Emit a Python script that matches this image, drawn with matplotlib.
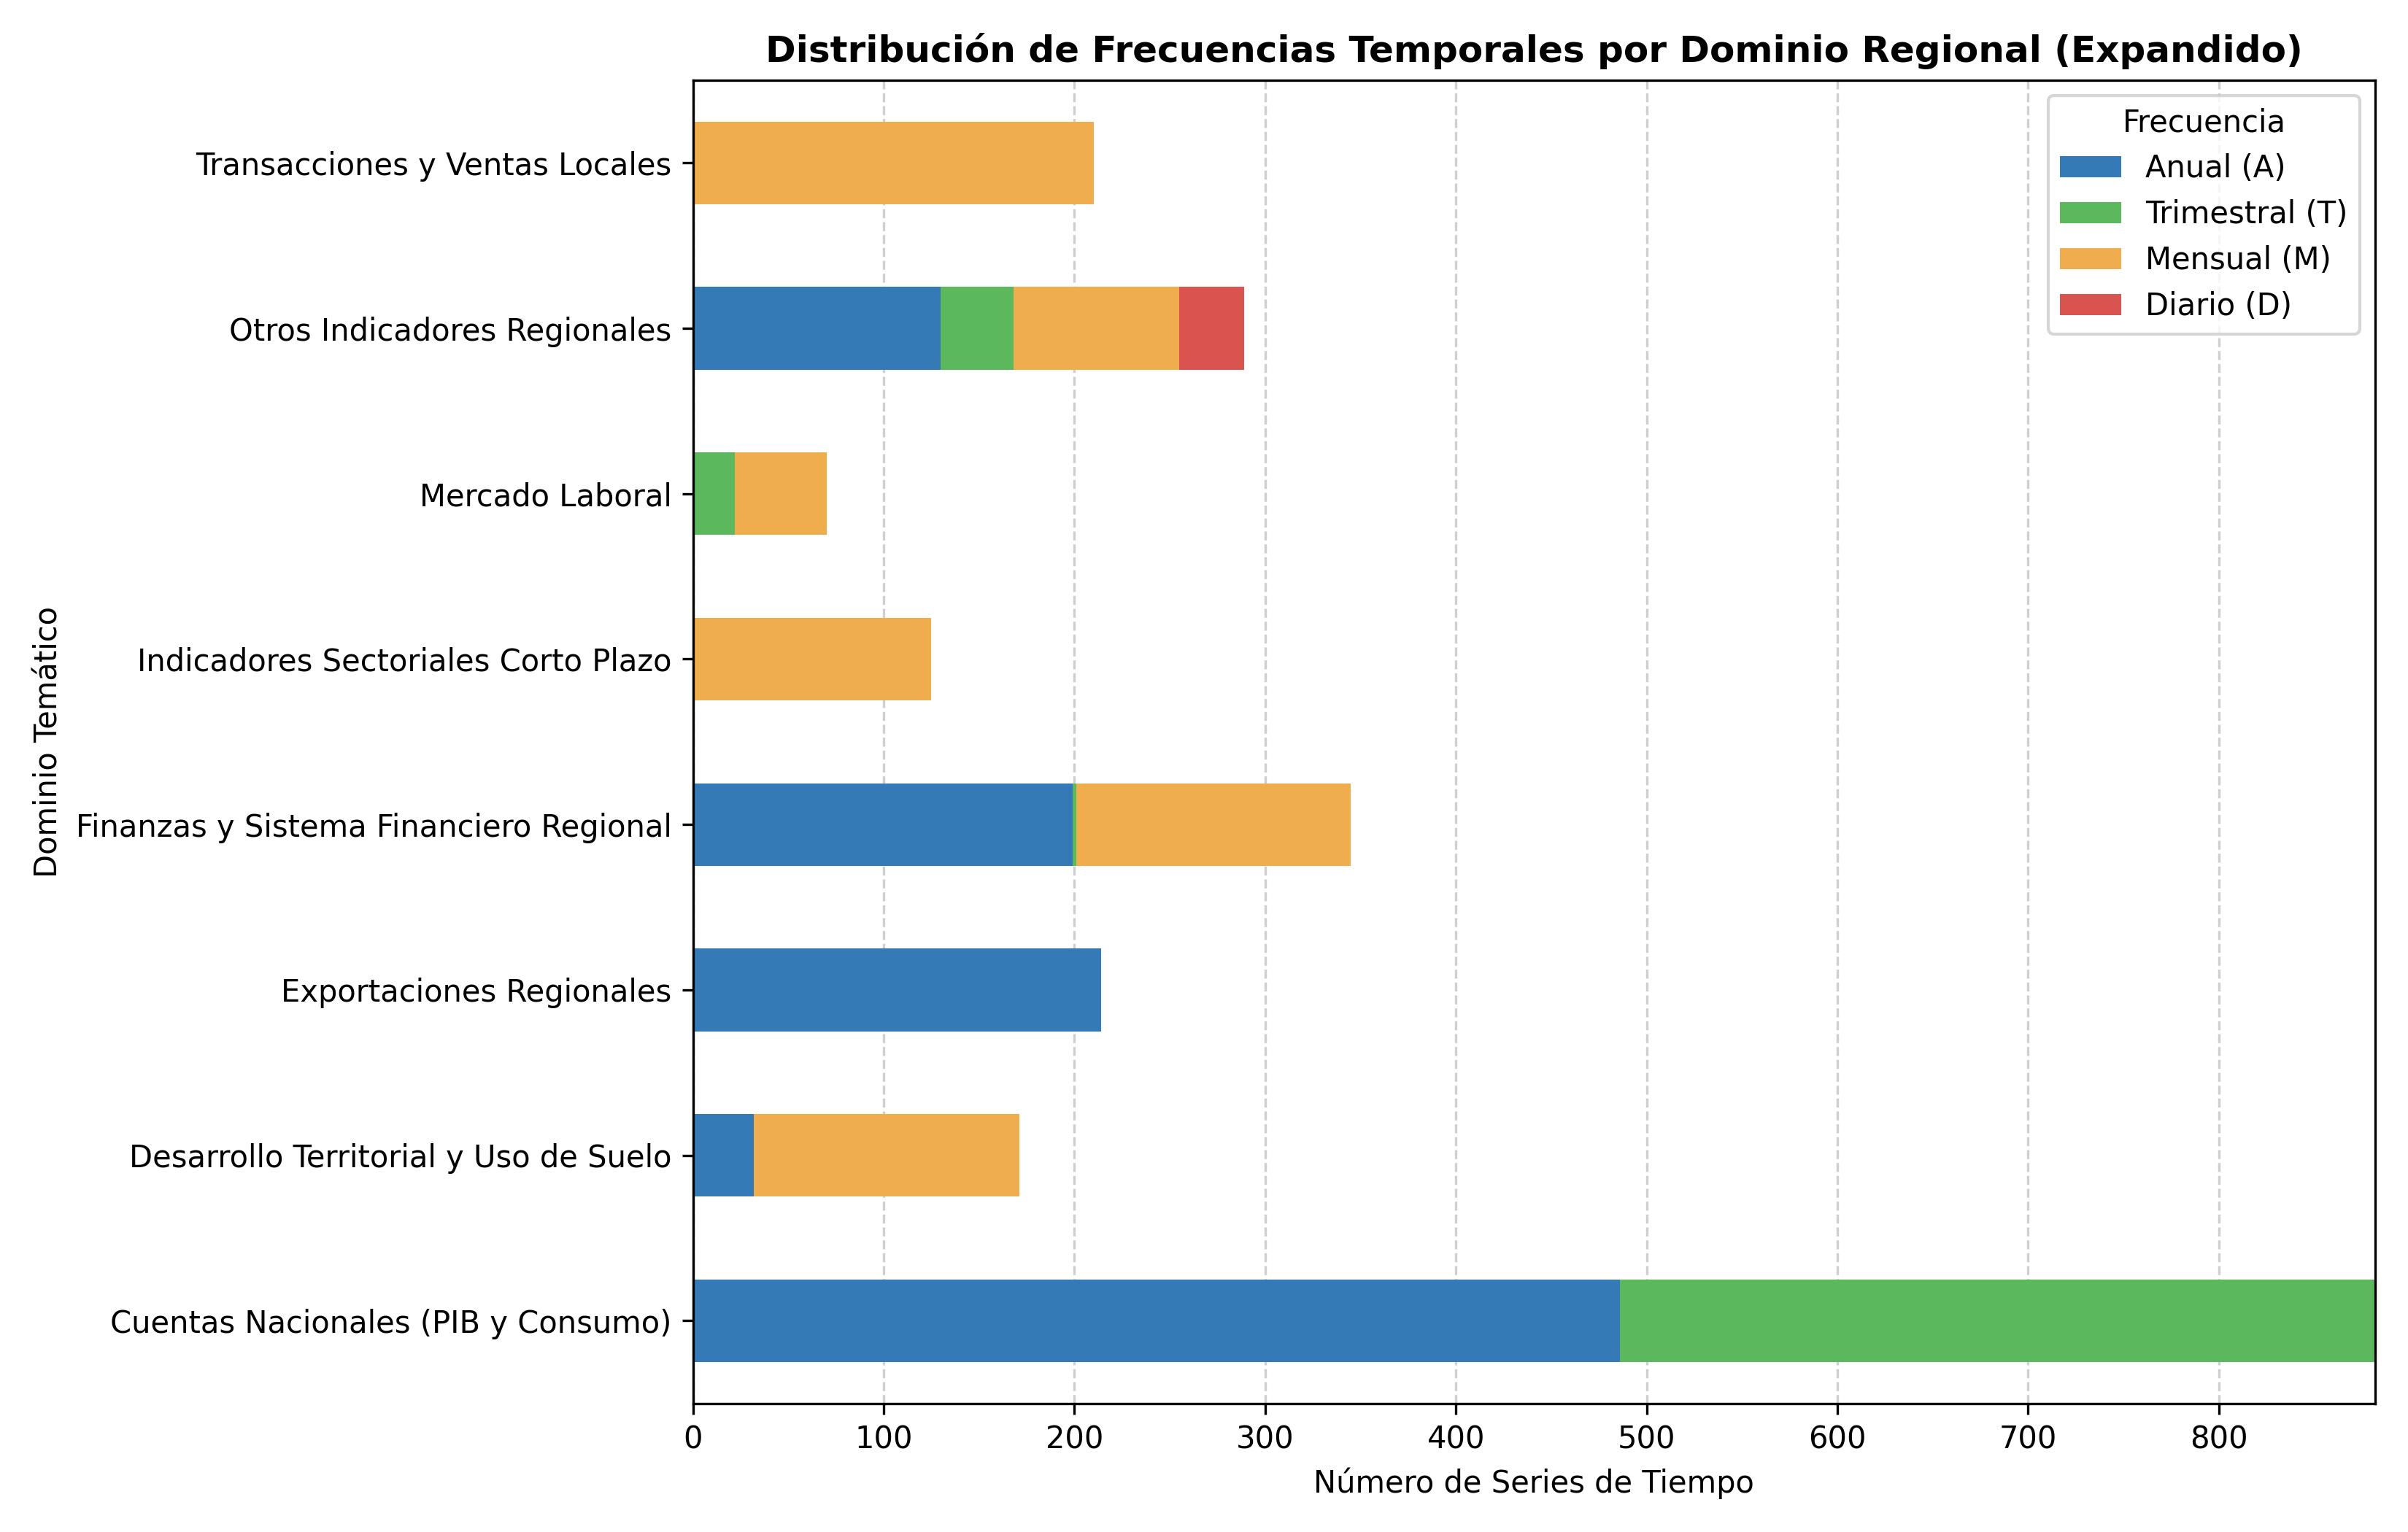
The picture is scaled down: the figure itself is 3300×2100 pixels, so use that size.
import numpy as np
from matplotlib import pyplot as plt

dominios = [
    "Cuentas Nacionales (PIB y Consumo)",
    "Desarrollo Territorial y Uso de Suelo",
    "Exportaciones Regionales",
    "Finanzas y Sistema Financiero Regional",
    "Indicadores Sectoriales Corto Plazo",
    "Mercado Laboral",
    "Otros Indicadores Regionales",
    "Transacciones y Ventas Locales",
]
anual = [486, 32, 214, 199, 0, 0, 130, 0]
trimestral = [396, 0, 0, 2, 0, 22, 38, 0]
mensual = [0, 139, 0, 144, 125, 48, 87, 210]
diario = [0, 0, 0, 0, 0, 0, 34, 0]

series = [
    ("Anual (A)", anual, "#337ab7"),
    ("Trimestral (T)", trimestral, "#5cb85c"),
    ("Mensual (M)", mensual, "#f0ad4e"),
    ("Diario (D)", diario, "#d9534f"),
]


def main():
    fig, ax = plt.subplots(figsize=(11, 7), dpi=300)
    y = np.arange(len(dominios))
    left = np.zeros(len(dominios))
    for name, vals, color in series:
        vals = np.array(vals, dtype=float)
        ax.barh(y, vals, left=left, height=0.5, color=color, label=name)
        left += vals
    ax.set_yticks(y)
    ax.set_yticklabels(dominios)
    ax.set_xlim(0, left.max())
    ax.set_ylim(-0.5, len(dominios) - 0.5)
    ax.grid(axis="x", linestyle="--", alpha=0.6)
    ax.set_axisbelow(True)
    ax.set_xlabel("Número de Series de Tiempo")
    ax.set_ylabel("Dominio Temático")
    ax.set_title("Distribución de Frecuencias Temporales por Dominio Regional (Expandido)",
                 fontweight="bold", fontsize=12)
    ax.legend(title="Frecuencia", loc="upper right")
    fig.tight_layout()
    fig.savefig("out.png", dpi=300)


if __name__ == "__main__":
    main()
